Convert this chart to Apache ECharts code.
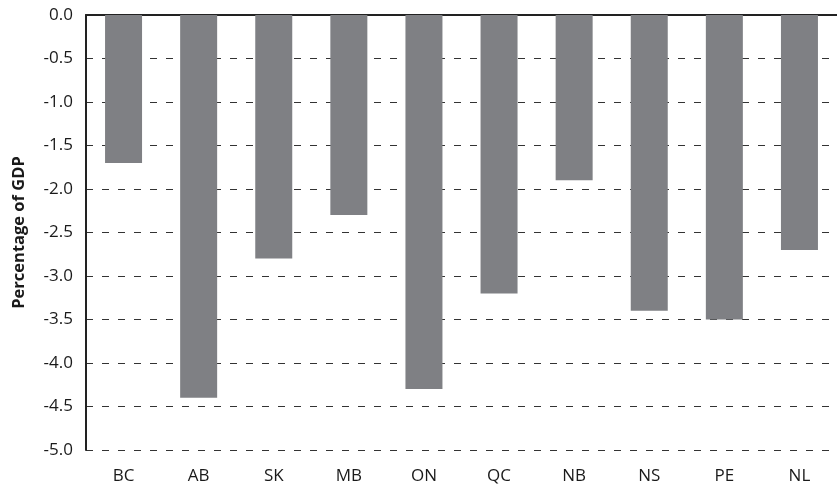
<!DOCTYPE html>
<html>
<head>
<meta charset="utf-8">
<script src="https://cdn.jsdelivr.net/npm/echarts@6/dist/echarts.min.js"></script>
<style>
	html, body { margin: 0; padding: 0; background: #fff; }
	#chart { width: 837px; height: 487px; }
</style>
</head>
<body>
<div id="chart"></div>
<script type="text/javascript">
	var provinces = ['BC', 'AB', 'SK', 'MB', 'ON', 'QC', 'NB', 'NS', 'PE', 'NL'];
	var gdpShare = [-1.7, -4.4, -2.8, -2.3, -4.3, -3.2, -1.9, -3.4, -3.5, -2.7];

	var chart = echarts.init(document.getElementById('chart'));
	var option = {
		animation: false,
		textStyle: { fontFamily: 'Open Sans' },
		grid: { left: 86, top: 15, width: 754, bottom: 37 },
		xAxis: [
			{
				type: 'category',
				data: provinces,
				position: 'bottom',
				axisLine: { show: false, onZero: false },
				axisTick: { show: false },
				axisLabel: { color: '#1a1a1a', fontSize: 17, margin: 18 }
			},
			{
				type: 'category',
				data: provinces,
				position: 'top',
				axisLine: { show: true, onZero: false, lineStyle: { color: '#222', width: 2 } },
				axisTick: { show: false },
				axisLabel: { show: false }
			}
		],
		yAxis: {
			type: 'value',
			min: -5,
			max: 0,
			interval: 0.5,
			name: 'Percentage of GDP',
			nameLocation: 'middle',
			nameGap: 58,
			nameTextStyle: { color: '#1a1a1a', fontSize: 16.5, fontWeight: 'bold' },
			axisLine: { show: true, lineStyle: { color: '#222', width: 2 } },
			axisTick: { show: false },
			axisLabel: {
				color: '#1a1a1a',
				fontSize: 17,
				margin: 13,
				formatter: function (v) { return v.toFixed(1); }
			},
			splitLine: { lineStyle: { color: '#333', type: [7, 9], width: 1 } }
		},
		series: [
			{
				type: 'bar',
				data: gdpShare,
				barWidth: 37,
				itemStyle: { color: '#7f8084' }
			}
		]
	};
	chart.setOption(option);
</script>
</body>
</html>
